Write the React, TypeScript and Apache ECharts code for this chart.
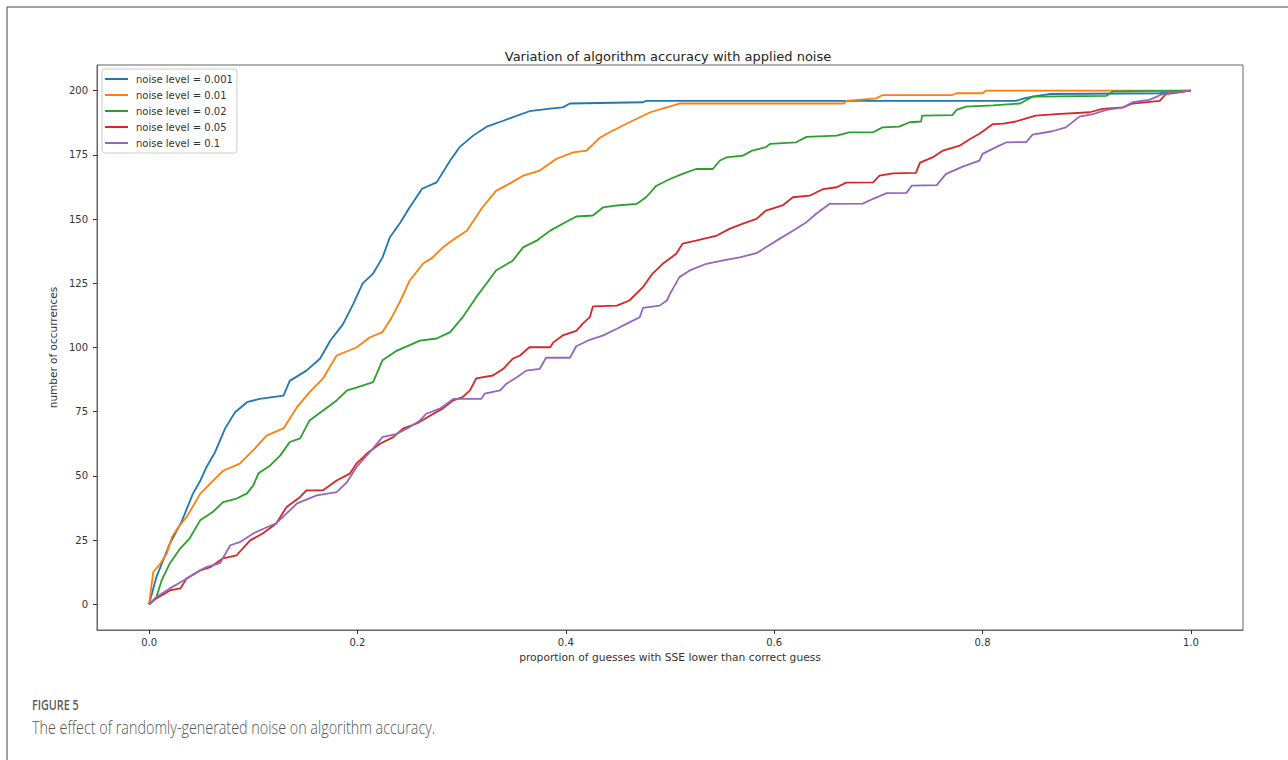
import React, { useEffect, useRef } from "react";
import * as echarts from "echarts";

const seriesNames = [
  "noise level = 0.001",
  "noise level = 0.01",
  "noise level = 0.02",
  "noise level = 0.05",
  "noise level = 0.1",
];
const colors = ["#1f77b4", "#ff7f0e", "#2ca02c", "#d62728", "#9467bd"];
const xTicks = [0, 0.2, 0.4, 0.6, 0.8, 1.0];
const yTicks = [0, 25, 50, 75, 100, 125, 150, 175, 200];

const noise0001 = [
  [0, 0], [0.007, 10.6], [0.02, 23.7], [0.031, 32], [0.042, 43], [0.049, 48], [0.055, 53.4], [0.063, 59],
  [0.073, 68.5], [0.0825, 74.8], [0.094, 78.7], [0.106, 80], [0.129, 81.3], [0.135, 87], [0.151, 91],
  [0.164, 95.6], [0.174, 102.7], [0.186, 109], [0.196, 117], [0.205, 125], [0.215, 128.8], [0.224, 135],
  [0.231, 142.8], [0.241, 148.6], [0.25, 154.5], [0.262, 161.8], [0.276, 164.3], [0.289, 172.8],
  [0.298, 178], [0.311, 182.5], [0.324, 186], [0.34, 188.3], [0.365, 192], [0.385, 193], [0.397, 193.5],
  [0.404, 195], [0.474, 195.5], [0.477, 196], [0.832, 196], [0.84, 197], [0.848, 197.7], [0.864, 198.7],
  [0.97, 199], [1.0, 200],
];
const noise001 = [
  [0, 0], [0.004, 12.6], [0.011, 16], [0.017, 19.8], [0.022, 26.2], [0.028, 30], [0.036, 34], [0.049, 43],
  [0.06, 47.6], [0.071, 52], [0.087, 54.8], [0.1, 60], [0.113, 65.8], [0.129, 68.5], [0.142, 76.8],
  [0.154, 82.6], [0.167, 88], [0.18, 96.9], [0.199, 100], [0.212, 104], [0.224, 106], [0.233, 111.8],
  [0.241, 118], [0.25, 126], [0.263, 132.7], [0.272, 135], [0.282, 139], [0.295, 142.8], [0.305, 145.5],
  [0.32, 154.6], [0.333, 161], [0.346, 163.8], [0.359, 166.9], [0.375, 168.9], [0.391, 173.5], [0.407, 176],
  [0.42, 176.7], [0.433, 181.8], [0.442, 183.8], [0.461, 187.7], [0.481, 191.6], [0.497, 193.5],
  [0.509, 195], [0.667, 195], [0.669, 196], [0.698, 197], [0.704, 198.3], [0.771, 198.3], [0.775, 199],
  [0.8, 199], [0.803, 200], [1.0, 200],
];
const noise002 = [
  [0, 0], [0.007, 2.8], [0.012, 9.3], [0.02, 16], [0.03, 21.8], [0.039, 25.7], [0.049, 32.7], [0.061, 35.9],
  [0.071, 39.8], [0.084, 41.2], [0.094, 43.2], [0.1, 46.3], [0.105, 51], [0.116, 54], [0.126, 58],
  [0.135, 63.2], [0.145, 64.6], [0.154, 71.6], [0.167, 75.5], [0.18, 79.4], [0.19, 83.3], [0.199, 84.4],
  [0.215, 86.5], [0.224, 95], [0.238, 98.8], [0.26, 102.7], [0.276, 103.5], [0.289, 106], [0.301, 111.8],
  [0.314, 119.6], [0.324, 125], [0.333, 130], [0.349, 133.8], [0.359, 139], [0.372, 141.6], [0.385, 145.5],
  [0.397, 148.2], [0.41, 151], [0.426, 151.4], [0.436, 154.6], [0.449, 155.3], [0.468, 155.9],
  [0.477, 158.5], [0.487, 163], [0.5, 165.6], [0.512, 167.6], [0.525, 169.5], [0.541, 169.5],
  [0.548, 172.8], [0.554, 174], [0.57, 174.7], [0.579, 176.7], [0.592, 178], [0.596, 179.3],
  [0.621, 179.9], [0.631, 182], [0.66, 182.5], [0.672, 183.8], [0.695, 183.8], [0.704, 185.7],
  [0.72, 186], [0.73, 187.7], [0.741, 188], [0.742, 190.3], [0.771, 190.5], [0.775, 192.5],
  [0.784, 193.8], [0.81, 194.3], [0.836, 195], [0.848, 197.7], [0.919, 198], [0.925, 199.7], [1.0, 200],
];
const noise005 = [
  [0, 0], [0.007, 2.3], [0.02, 5.4], [0.03, 6.2], [0.036, 10], [0.049, 13.2], [0.059, 14.5], [0.071, 17.9],
  [0.084, 19.1], [0.097, 24.9], [0.109, 27.6], [0.122, 31.5], [0.132, 37.9], [0.145, 41.8], [0.151, 44.4],
  [0.167, 44.4], [0.18, 48.2], [0.193, 51], [0.199, 54.8], [0.209, 58.7], [0.222, 62.6], [0.234, 65],
  [0.244, 68.5], [0.257, 70.4], [0.27, 73.5], [0.282, 76.3], [0.292, 79.4], [0.301, 80.7], [0.308, 83.3],
  [0.314, 88], [0.33, 89.1], [0.34, 91.7], [0.349, 95.6], [0.356, 96.9], [0.365, 100.1], [0.385, 100.1],
  [0.388, 102], [0.397, 104.7], [0.41, 106.5], [0.416, 109.2], [0.423, 111.8], [0.426, 116],
  [0.449, 116.3], [0.461, 118.3], [0.474, 123.5], [0.483, 128.7], [0.493, 132.6], [0.506, 136.5],
  [0.512, 140.4], [0.525, 141.6], [0.545, 143.6], [0.557, 146.2], [0.57, 148.2], [0.583, 150.1],
  [0.592, 153.3], [0.608, 155.3], [0.618, 158.5], [0.634, 159.1], [0.647, 161.7], [0.66, 162.4],
  [0.669, 164.2], [0.695, 164.3], [0.701, 166.9], [0.714, 167.8], [0.736, 168], [0.74, 172],
  [0.752, 174], [0.762, 176.7], [0.778, 178.6], [0.788, 181.2], [0.797, 183.2], [0.81, 187],
  [0.82, 187.2], [0.832, 188], [0.851, 190.3], [0.871, 190.9], [0.903, 191.6], [0.915, 192.9],
  [0.935, 193.5], [0.944, 195], [0.97, 196], [0.976, 198.7], [0.989, 199.3], [1.0, 200],
];
const noise01 = [
  [0, 0], [0.007, 2.8], [0.02, 6.2], [0.033, 9.3], [0.046, 12.6], [0.055, 14.5], [0.068, 16], [0.078, 23],
  [0.087, 24.2], [0.1, 27.6], [0.113, 30], [0.122, 31.5], [0.132, 35.4], [0.142, 39.3], [0.161, 42.4],
  [0.18, 43.7], [0.19, 47.6], [0.199, 53.4], [0.212, 59.3], [0.224, 65.1], [0.238, 66.4], [0.25, 69],
  [0.26, 71.6], [0.266, 74.2], [0.279, 76.2], [0.292, 80], [0.319, 80], [0.322, 82], [0.337, 83.3],
  [0.343, 85.9], [0.353, 88.4], [0.362, 91], [0.375, 91.7], [0.381, 96], [0.404, 96], [0.41, 100.5],
  [0.423, 103], [0.436, 104.7], [0.449, 107.3], [0.461, 109.8], [0.471, 111.8], [0.474, 115.4],
  [0.49, 116.3], [0.497, 118.3], [0.5, 120.9], [0.509, 127.4], [0.519, 130], [0.535, 132.6],
  [0.551, 133.9], [0.567, 135.1], [0.583, 136.7], [0.592, 139], [0.605, 142.3], [0.618, 145.5],
  [0.631, 148.8], [0.64, 152], [0.653, 155.9], [0.685, 156], [0.695, 157.9], [0.708, 160.1],
  [0.727, 160.2], [0.732, 163], [0.756, 163.2], [0.765, 167.6], [0.781, 170.4], [0.797, 172.8],
  [0.8, 175.4], [0.813, 178], [0.823, 179.9], [0.842, 180], [0.848, 182.9], [0.867, 184.2],
  [0.88, 185.7], [0.893, 189.9], [0.906, 190.9], [0.919, 192.5], [0.935, 193.5], [0.944, 195.5],
  [0.96, 196.4], [0.973, 198.7], [0.983, 199.3], [1.0, 200],
];
const seriesData = [noise0001, noise001, noise002, noise005, noise01];

const titleText = "Variation of algorithm accuracy with applied noise";
const xName = "proportion of guesses with SSE lower than correct guess";
const yName = "number of occurrences";
const figLabel = "FIGURE 5";
const captionText = "The effect of randomly-generated noise on algorithm accuracy.";

const FONT = "DejaVu Sans";

export default function App() {
  const ref = useRef<HTMLDivElement>(null);
  useEffect(() => {
    if (!ref.current) return;
    const chart = echarts.init(ref.current, undefined, { renderer: "svg" });
    chart.setOption({
      animation: false,
      backgroundColor: "#ffffff",
      title: {
        text: titleText,
        left: 663,
        top: 45,
        textAlign: "center",
        textStyle: { fontFamily: FONT, fontSize: 13, fontWeight: "normal", color: "#222" },
      },
      legend: {
        orient: "vertical",
        left: 102,
        top: 69,
        padding: [5, 4, 5, 3],
        itemWidth: 23,
        itemHeight: 2,
        itemGap: 6,
        icon: "rect",
        borderColor: "#cccccc",
        borderWidth: 1,
        borderRadius: 3,
        backgroundColor: "#ffffff",
        textStyle: { fontFamily: FONT, fontSize: 10, color: "#333", padding: [0, 0, 0, 3], lineHeight: 10 },
        data: seriesNames.map((n) => ({ name: n, icon: "rect" })),
      },
      grid: {
        left: 97,
        right: 45,
        top: 65,
        bottom: 130,
        show: true,
        borderColor: "#666",
        borderWidth: 1,
        containLabel: false,
      },
      xAxis: {
        type: "value",
        min: -0.05,
        max: 1.05,
        name: xName,
        nameLocation: "middle",
        nameGap: 22,
        nameTextStyle: { fontFamily: FONT, fontSize: 10.7, color: "#333" },
        axisLine: { show: true, onZero: false, lineStyle: { color: "#666", width: 1 } },
        axisTick: { show: true, length: 4, lineStyle: { color: "#333" }, customValues: xTicks },
        axisLabel: {
          fontFamily: FONT,
          fontSize: 10,
          color: "#333",
          margin: 7,
          customValues: xTicks,
          formatter: (v: number) => v.toFixed(1),
        },
        splitLine: { show: false },
      },
      yAxis: {
        type: "value",
        min: -10,
        max: 210,
        name: yName,
        nameLocation: "middle",
        nameGap: 36,
        nameTextStyle: { fontFamily: FONT, fontSize: 10.5, color: "#333" },
        axisLine: { show: true, onZero: false, lineStyle: { color: "#666", width: 1 } },
        axisTick: { show: true, length: 4, lineStyle: { color: "#333" }, customValues: yTicks },
        axisLabel: {
          fontFamily: FONT,
          fontSize: 10,
          color: "#333",
          margin: 9,
          customValues: yTicks,
        },
        splitLine: { show: false },
      },
      series: seriesData.map((d, i) => ({
        name: seriesNames[i],
        type: "line",
        data: d,
        symbol: "none",
        showSymbol: false,
        lineStyle: { color: colors[i], width: 1.8 },
        itemStyle: { color: colors[i] },
        z: 2 + i,
      })),
      graphic: [
        { type: "line", shape: { x1: 7, y1: 7, x2: 1288, y2: 7 }, style: { stroke: "#444", lineWidth: 1 } },
        { type: "line", shape: { x1: 7, y1: 7, x2: 7, y2: 760 }, style: { stroke: "#444", lineWidth: 1 } },
        {
          type: "text",
          x: 32,
          y: 704,
          scaleX: 0.72,
          style: {
            text: figLabel,
            fontFamily: "Open Sans",
            fontSize: 15,
            fontWeight: 600,
            fill: "#5a5a5a",
            textVerticalAlign: "middle",
          },
        },
        {
          type: "text",
          x: 32,
          y: 727,
          scaleX: 0.82,
          style: {
            text: captionText,
            fontFamily: "Open Sans",
            fontSize: 17.5,
            fontWeight: 300,
            fill: "#555555",
            textVerticalAlign: "middle",
          },
        },
      ],
    });
    return () => chart.dispose();
  }, []);
  return (
    <div
      ref={ref}
      style={{ position: "absolute", left: 0, top: 0, width: 1288, height: 760, background: "#fff" }}
    />
  );
}
